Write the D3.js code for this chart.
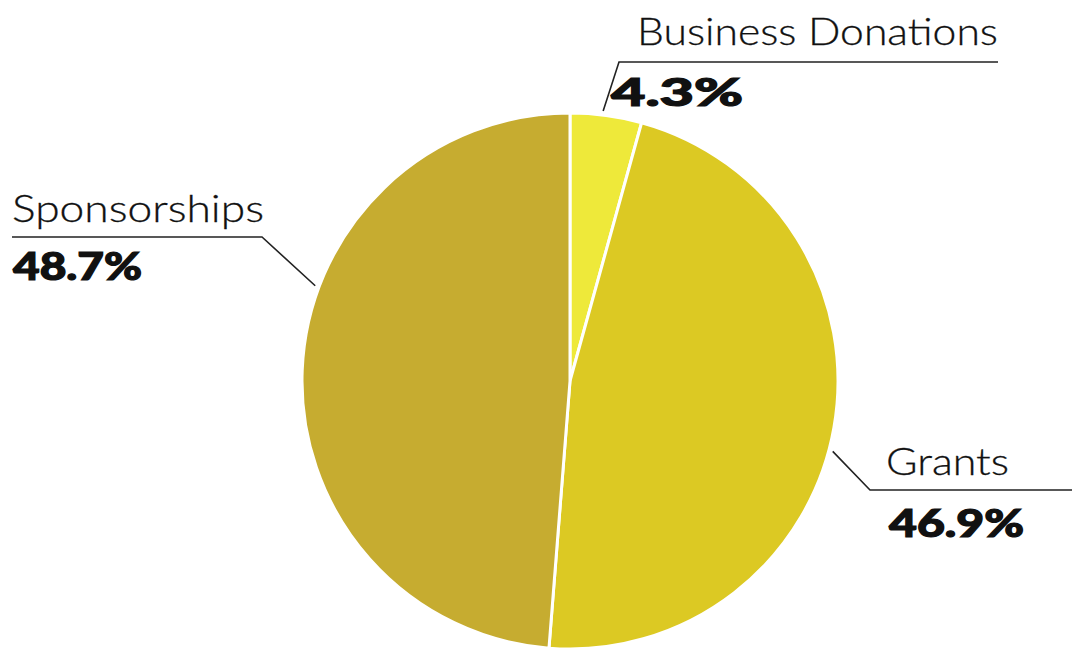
<!DOCTYPE html>
<html><head><meta charset="utf-8">
<script src="https://cdn.jsdelivr.net/npm/d3@7"></script>
<style>
html,body{margin:0;padding:0;background:#fff;overflow:hidden}
text.name{font-family:Lato,"Open Sans",sans-serif;font-weight:300;fill:#111;stroke:#111;stroke-width:0.3}
text.pct{font-family:Lato,"DejaVu Sans",sans-serif;font-weight:900;fill:#111;stroke:#111;stroke-width:1.2}
</style></head>
<body>
<svg id="c" width="1072" height="648"></svg>
<script>
const categories = ["Business Donations", "Grants", "Sponsorships"];
const values = [4.3, 46.9, 48.7];
const pctLabels = ["4.3%", "46.9%", "48.7%"];
const colors = ["#EEE93A", "#DCC923", "#C6AC30"];

const svg = d3.select("#c");
const W = 1072, H = 648;
const cx = 570, cy = 381, R = 268;

const pie = d3.pie().sort(null).value(d => d);
const arcs = pie(values);
const arc = d3.arc().innerRadius(0).outerRadius(R);

const g = svg.append("g").attr("transform", `translate(${cx},${cy})`);
g.selectAll("path").data(arcs).join("path")
  .attr("d", arc)
  .attr("fill", (d, i) => colors[i])
  .attr("stroke", "#fff")
  .attr("stroke-width", 3)
  .attr("stroke-linejoin", "round");

// label layout: leader start angle (deg), elbow point, line end, text positions
const layout = [
  {ang: 7, elbow: [619, 62], end: [998, 62], name: [637, 45], pct: [611, 106], nameW: 361, pctW: 132},
  {ang: 105, elbow: [870, 490], end: [1072, 490], name: [886, 475], pct: [889, 537], nameW: 123, pctW: 135},
  {ang: 290.5, elbow: [262, 237], end: [12, 237], name: [12, 222], pct: [13, 280], nameW: 252, pctW: 129}
];

arcs.forEach((a, i) => {
  const L = layout[i];
  const t = L.ang * Math.PI / 180;
  const sx = cx + (R + 4) * Math.sin(t), sy = cy - (R + 4) * Math.cos(t);
  svg.append("polyline")
    .attr("points", [[sx, sy], L.elbow, L.end].map(p => p.join(",")).join(" "))
    .attr("fill", "none").attr("stroke", "#222").attr("stroke-width", 1.6);
  svg.append("text").attr("class", "name")
    .attr("x", L.name[0]).attr("y", L.name[1])
    .attr("font-size", 38)
    .attr("textLength", L.nameW).attr("lengthAdjust", "spacingAndGlyphs")
    .text(categories[i]);
  svg.append("text").attr("class", "pct")
    .attr("x", L.pct[0]).attr("y", L.pct[1])
    .attr("font-size", 37)
    .attr("textLength", L.pctW).attr("lengthAdjust", "spacingAndGlyphs")
    .text(pctLabels[i]);
});
</script>
</body></html>
